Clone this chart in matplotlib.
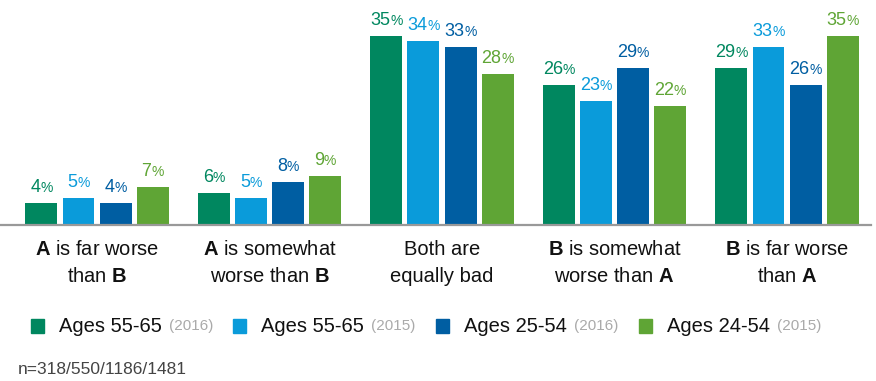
import matplotlib.pyplot as plt
import numpy as np
from matplotlib.patches import Rectangle

plt.rcParams['font.family'] = ['Liberation Sans', 'DejaVu Sans']
plt.rcParams['mathtext.fontset'] = 'custom'
plt.rcParams['mathtext.rm'] = 'Liberation Sans'
plt.rcParams['mathtext.bf'] = 'Liberation Sans:bold'

# categories (A / B bold parts via mathtext)
cats = [r'$\mathbf{A}$ is far worse' + '\n' + r'than $\mathbf{B}$',
        r'$\mathbf{A}$ is somewhat' + '\n' + r'worse than $\mathbf{B}$',
        'Both are\nequally bad',
        r'$\mathbf{B}$ is somewhat' + '\n' + r'worse than $\mathbf{A}$',
        r'$\mathbf{B}$ is far worse' + '\n' + r'than $\mathbf{A}$']

# series values (%)
ages_5565_2016 = [4, 6, 35, 26, 29]
ages_5565_2015 = [5, 5, 34, 23, 33]
ages_2554_2016 = [4, 8, 33, 29, 26]
ages_2454_2015 = [7, 9, 28, 22, 35]

series = [ages_5565_2016, ages_5565_2015, ages_2554_2016, ages_2454_2015]
names = ['Ages 55-65', 'Ages 55-65', 'Ages 25-54', 'Ages 24-54']
years = ['(2016)', '(2015)', '(2016)', '(2015)']
colors = ['#00875F', '#0A9BDA', '#005EA2', '#5FA535']

fig = plt.figure(figsize=(8.76, 3.81), dpi=100)
ax = fig.add_axes([0, 0.4094, 871 / 876, 216 / 381])

x = np.arange(len(cats))
step, w = 0.2145, 0.1855
for i, (vals, col) in enumerate(zip(series, colors)):
    xs = x + (i - 1.5) * step
    ax.bar(xs, vals, w, color=col, zorder=2)
    for xi, v in zip(xs, vals):
        n = len(str(v))
        dx = (n * 7.2 - 8.9) / 2
        ax.annotate(str(v), (xi, v), xytext=(dx, 8), textcoords='offset points',
                    ha='right', va='baseline', fontsize=13, color=col)
        ax.annotate('%', (xi, v), xytext=(dx, 8), textcoords='offset points',
                    ha='left', va='baseline', fontsize=10, color=col)

ax.set_xlim(-97 / 172.5, (871 - 97) / 172.5)
ax.set_ylim(0, 40)
ax.set_yticks([])
ax.set_xticks(x)
ax.set_xticklabels(cats, fontsize=14.5, linespacing=1.5, color='#111111')
ax.tick_params(axis='x', length=0, pad=11)
for s in ['top', 'left', 'right']:
    ax.spines[s].set_visible(False)
ax.spines['bottom'].set_color('#999999')
ax.spines['bottom'].set_linewidth(1.6)
ax.patch.set_alpha(0)

# legend drawn by hand (gray year after each name)
W, H = 876, 381
leg_x = [31, 233, 436, 639]
for lx, col, nm, yr in zip(leg_x, colors, names, years):
    fig.patches.append(Rectangle((lx / W, (H - 333) / H), 13 / W, 14 / H,
                                 transform=fig.transFigure, color=col))
    t = fig.text((lx + 28) / W, (H - 326) / H, nm, fontsize=14.5, va='center',
                 ha='left', color='#111111')
    fig.canvas.draw()
    bb = t.get_window_extent()
    fig.text((bb.x1 + 7) / W, (H - 326) / H, yr, fontsize=11, va='center',
             ha='left', color='#aaaaaa',
             family=['Liberation Sans Narrow', 'Liberation Sans'])

fig.text(18 / W, (H - 369) / H, 'n=318/550/1186/1481', fontsize=12.5,
         va='center', ha='left', color='#444444',
         family=['Liberation Sans Narrow', 'Liberation Sans'])

fig.savefig('out.png', dpi=100)
